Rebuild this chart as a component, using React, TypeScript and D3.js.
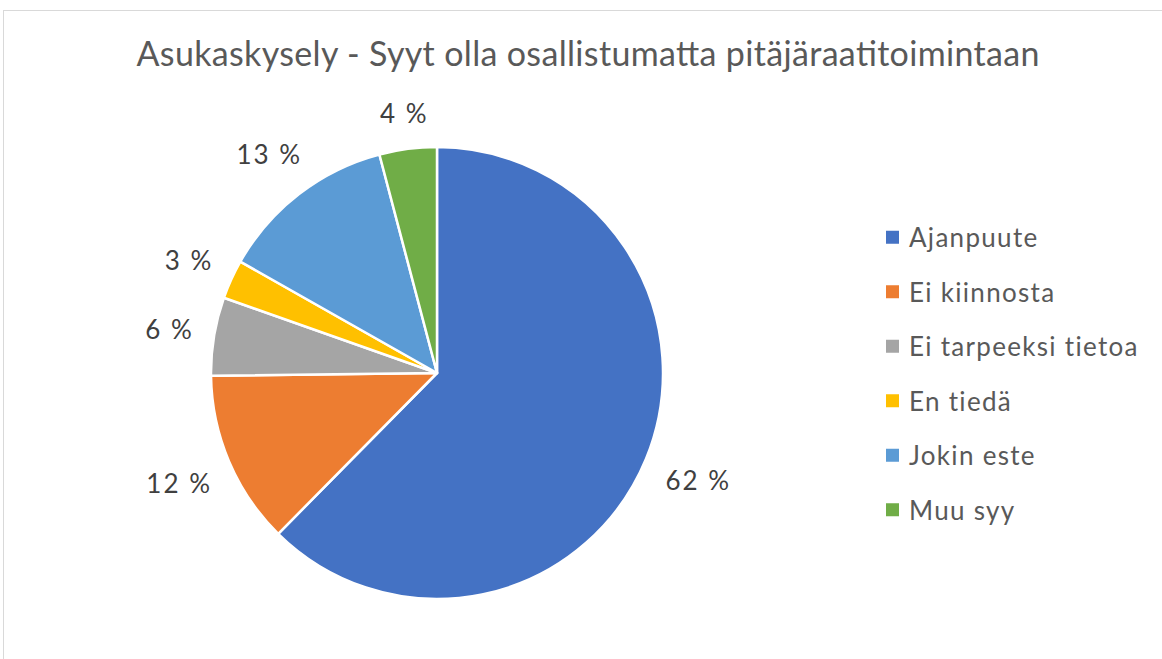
import React, { useEffect, useRef } from "react";
import * as d3 from "d3";

const categories = ["Ajanpuute", "Ei kiinnosta", "Ei tarpeeksi tietoa", "En tiedä", "Jokin este", "Muu syy"];
const values = [62.4, 12.4, 5.6, 2.8, 12.7, 4.1];
const colors = ["#4472C4", "#ED7D31", "#A5A5A5", "#FFC000", "#5B9BD5", "#70AD47"];
const title = "Asukaskysely - Syyt olla osallistumatta pitäjäraatitoimintaan";

const W = 1162;
const H = 659;
const FONT = "Lato, 'Open Sans', sans-serif";

export default function App() {
  const ref = useRef<SVGSVGElement>(null);

  useEffect(() => {
    const svg = d3.select(ref.current);
    svg.selectAll("*").remove();

    svg.append("rect")
      .attr("x", 3.5).attr("y", 10.5).attr("width", 1300).attr("height", 800)
      .attr("fill", "#fff").attr("stroke", "#d9d9d9").attr("stroke-width", 1);

    svg.append("text")
      .attr("x", 588).attr("y", 66)
      .attr("text-anchor", "middle")
      .attr("font-family", FONT).attr("font-weight", 400)
      .attr("font-size", 34).attr("fill", "#595959")
      .attr("textLength", 903).attr("lengthAdjust", "spacing")
      .text(title);

    const cx = 437, cy = 373, r = 226;
    const total = d3.sum(values);
    const pie = d3.pie<number>().sort(null).value((d) => d);
    const arcs = pie(values);
    const arc = d3.arc<d3.PieArcDatum<number>>().innerRadius(0).outerRadius(r);

    const g = svg.append("g").attr("transform", `translate(${cx},${cy})`);
    g.selectAll("path").data(arcs).enter().append("path")
      .attr("d", arc as any)
      .attr("fill", (_d, i) => colors[i])
      .attr("stroke", "#fff").attr("stroke-width", 2.5).attr("stroke-linejoin", "round");

    const gap = 20;
    arcs.forEach((a) => {
      const ang = (a.startAngle + a.endAngle) / 2;
      const ux = Math.sin(ang), uy = -Math.cos(ang);
      const t = g.append("text")
        .attr("font-family", FONT).attr("font-size", 26).attr("fill", "#404040")
        .attr("letter-spacing", 2)
        .attr("text-anchor", "middle").attr("dominant-baseline", "central")
        .text(`${Math.round((a.data / total) * 100)} %`);
      const bb = (t.node() as SVGTextElement).getBBox();
      const hw = bb.width / 2, hh = 13;
      const d = r + gap + hw * Math.abs(ux) + hh * Math.abs(uy);
      t.attr("x", ux * d + 1).attr("y", uy * d);
    });

    const lg = svg.append("g");
    const ly = d3.scaleBand<string>().domain(categories).range([210, 537]).paddingInner(0).paddingOuter(0);
    categories.forEach((c, i) => {
      const y = (ly(c) as number) + ly.bandwidth() / 2;
      lg.append("rect").attr("x", 886).attr("y", y - 6.5).attr("width", 13).attr("height", 13).attr("fill", colors[i]);
      lg.append("text").attr("x", 909).attr("y", y)
        .attr("dominant-baseline", "central")
        .attr("font-family", FONT).attr("font-size", 26).attr("fill", "#595959")
        .attr("letter-spacing", 1.3)
        .text(c);
    });
  }, []);

  return (
    <>
      <style>{`body{margin:0}`}</style>
      <svg ref={ref} width={W} height={H} style={{ display: "block" }} />
    </>
  );
}
